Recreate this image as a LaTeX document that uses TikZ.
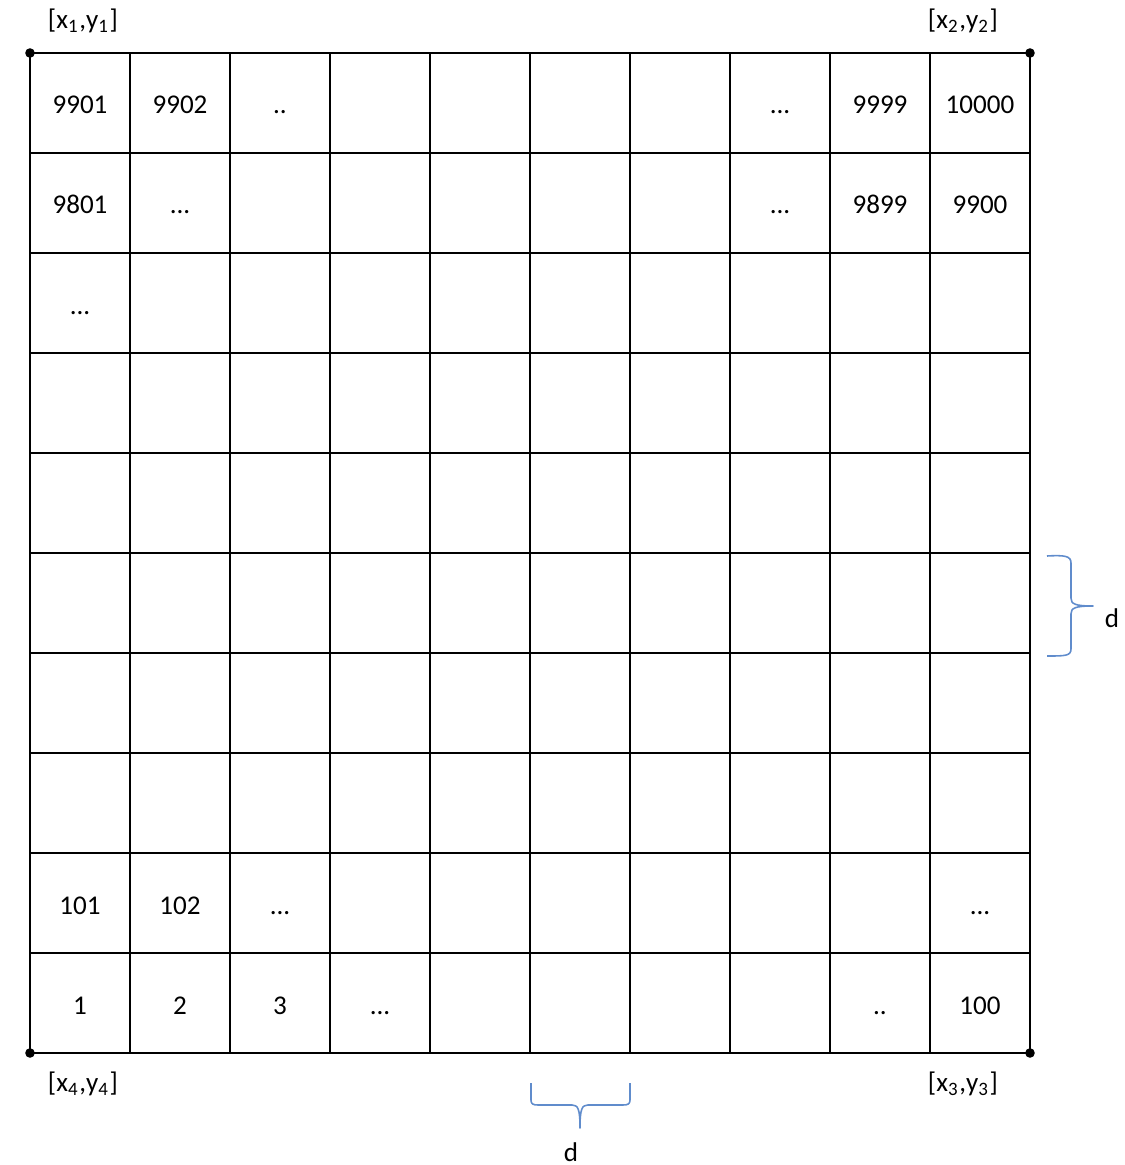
\documentclass[tikz,border=0pt]{standalone}
\usepackage{fontspec}
\setmainfont{Carlito}
\newcommand{\threedots}{...}
\newcommand{\twodots}{..}
\definecolor{bracecol}{RGB}{96,140,204}
\tikzset{
    cell/.style={anchor=base, inner sep=0pt, font=\fontsize{7.7}{9}\selectfont},
    corner/.style={font=\fontsize{7.7}{9}\selectfont, inner sep=0pt},
    dbrace/.style={draw=bracecol, line width=0.45pt, line join=round}
}
\begin{document}
\begin{tikzpicture}
    \useasboundingbox (-0.30,-1.12) rectangle (10.95,10.53);
    \draw [line width=0.4pt] (0,0) grid (10,10);
    % corners
    \coordinate (p1) at (0,10);
    \coordinate (p2) at (10,10);
    \coordinate (p3) at (10,0);
    \coordinate (p4) at (0,0);
    \foreach \p in {p1,p2,p3,p4}
        \fill (\p) circle (0.048);
    \node (l1) [corner] at (0.53,10.32) {[x\textsubscript{1},y\textsubscript{1}]};
    \node (l2) [corner] at (9.33,10.32) {[x\textsubscript{2},y\textsubscript{2}]};
    \node (l3) [corner] at (9.33,-0.31) {[x\textsubscript{3},y\textsubscript{3}]};
    \node (l4) [corner] at (0.53,-0.31) {[x\textsubscript{4},y\textsubscript{4}]};
    % cell numbers
    \foreach \c/\r/\t in {1/10/9901, 2/10/9902, 3/10/\twodots, 8/10/\threedots, 9/10/9999, 10/10/10000,
                          1/9/9801, 2/9/\threedots, 8/9/\threedots, 9/9/9899, 10/9/9900,
                          1/8/\threedots,
                          1/2/101, 2/2/102, 3/2/\threedots, 10/2/\threedots,
                          1/1/1, 2/1/2, 3/1/3, 4/1/\threedots, 9/1/\twodots, 10/1/100}
        \node (n\c-\r) [cell] at (\c-0.5,\r-0.61) {\t};
    % braces
    \draw [dbrace] (10.17,4.97) .. controls (10.35,4.98) and (10.41,4.97) .. (10.41,4.90)
        -- (10.41,4.55) .. controls (10.41,4.49) and (10.45,4.47) .. (10.63,4.47)
        .. controls (10.45,4.47) and (10.41,4.45) .. (10.41,4.39)
        -- (10.41,4.04) .. controls (10.41,3.97) and (10.35,3.97) .. (10.17,3.97);
    \draw [dbrace] (5.01,-0.30) -- (5.01,-0.47) .. controls (5.01,-0.51) and (5.03,-0.52) .. (5.08,-0.52)
        -- (5.42,-0.52) .. controls (5.48,-0.52) and (5.50,-0.56) .. (5.50,-0.75)
        .. controls (5.50,-0.56) and (5.52,-0.52) .. (5.58,-0.52)
        -- (5.93,-0.52) .. controls (5.98,-0.52) and (6.00,-0.51) .. (6.00,-0.47) -- (6.00,-0.30);
    \node (dr) [corner] at (10.82,4.35) {d};
    \node (db) [corner] at (5.41,-0.99) {d};
\end{tikzpicture}
\end{document}
